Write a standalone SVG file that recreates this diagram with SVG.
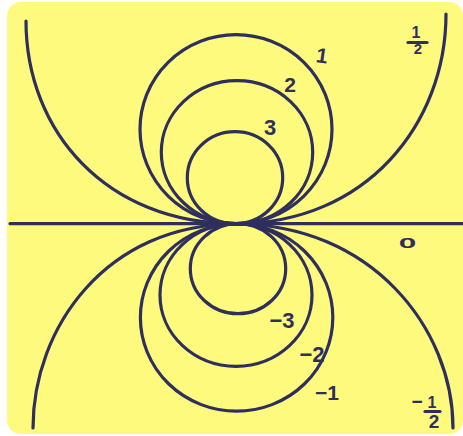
<svg xmlns="http://www.w3.org/2000/svg" width="463" height="436" viewBox="0 0 463 436">
<style>
.c{fill:none;stroke:#2f2f5e;stroke-width:3.2;stroke-linecap:round}
.t{fill:#2f2f5e;font-family:"Liberation Sans",Arial,sans-serif;font-weight:bold;text-anchor:middle}
</style>
<rect x="0" y="0" width="463" height="436" fill="#ffffff"/>
<rect x="7" y="2" width="456" height="432" rx="14" fill="#fefa7e"/>
<g id="connectors">
<path class="c" d="M10 223.7 H463"/>
</g>
<g id="curve-half">
<path class="c" d="M26 21 C26 131 106 223.7 236 223.7 C366 223.7 446 124 446 14"/>
</g>
<g id="curve-neg-half">
<path class="c" d="M33 428 C33 328 106 224 236 224 C371 224 453 328 453 428"/>
</g>
<g id="circle-1"><ellipse class="c" cx="236" cy="129.2" rx="96" ry="94.5"/></g>
<g id="circle-2"><ellipse class="c" cx="237" cy="152.2" rx="75.7" ry="71.5"/></g>
<g id="circle-3"><ellipse class="c" cx="235" cy="177.7" rx="47.7" ry="46"/></g>
<g id="circle-neg3"><ellipse class="c" cx="238" cy="268.7" rx="47.7" ry="45"/></g>
<g id="circle-neg2"><ellipse class="c" cx="236" cy="295" rx="76" ry="71.3"/></g>
<g id="circle-neg1"><ellipse class="c" cx="236.6" cy="317.5" rx="96.2" ry="93.7"/></g>
<g id="labels">
<text class="t" x="322" y="63" font-size="21" transform="rotate(8 322 56)">1</text>
<text class="t" x="290" y="92" font-size="21">2</text>
<text class="t" x="270" y="135" font-size="22">3</text>
<text class="t" x="0" y="0" font-size="15" transform="translate(407.5 248) scale(2.1 1)">0</text>
<text class="t" x="282" y="328" font-size="22">−3</text>
<text class="t" x="312" y="362" font-size="22">−2</text>
<text class="t" x="327" y="400" font-size="21">−1</text>
<text class="t" x="416" y="38" font-size="16">1</text>
<path class="c" d="M408 42.5 H427" stroke-width="2.8"/>
<text class="t" x="418" y="53.5" font-size="15">2</text>
<text class="t" x="417" y="408" font-size="19">−</text>
<text class="t" x="432" y="408" font-size="16">1</text>
<path class="c" d="M425 411.5 H440" stroke-width="2.8"/>
<text class="t" x="434" y="428" font-size="19">2</text>
</g>
</svg>
